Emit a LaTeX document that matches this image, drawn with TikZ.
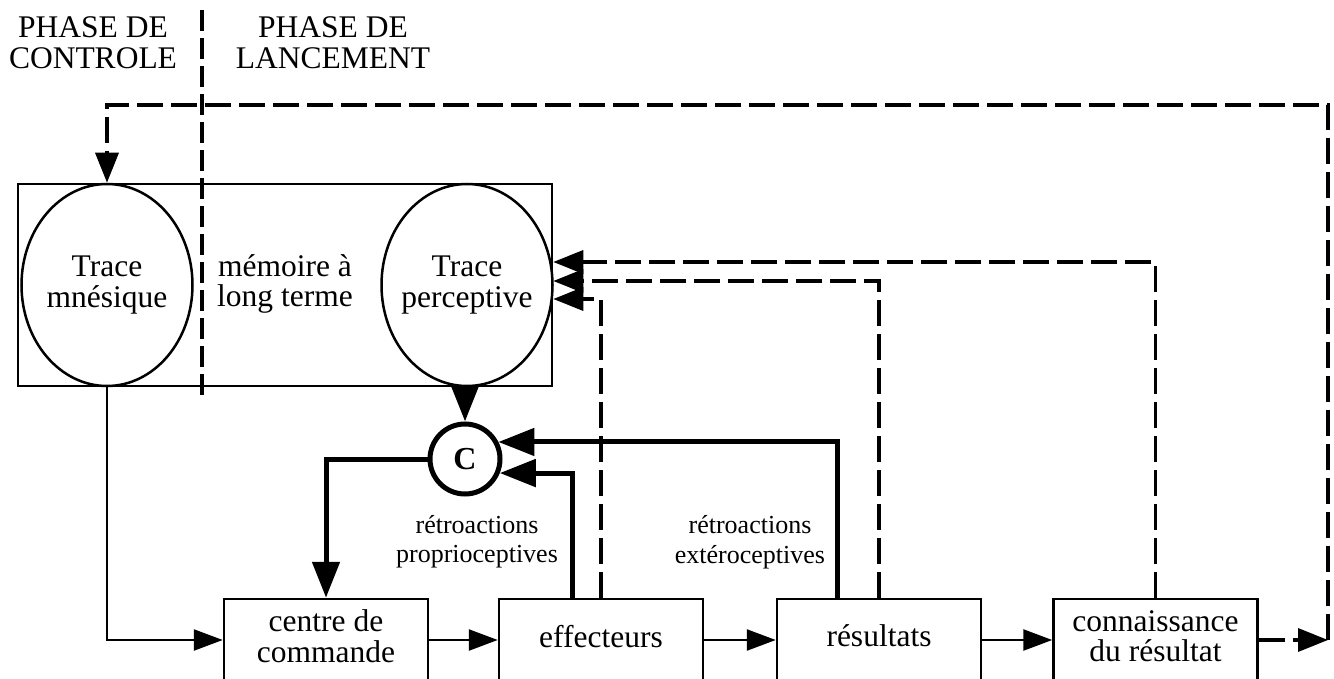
\documentclass[tikz,border=0pt]{standalone}
\usepackage{fontspec}
\setmainfont{Liberation Serif}
\usetikzlibrary{arrows.meta,shapes.geometric}
\newcommand\dpstrut{\rule[-8pt]{0pt}{8pt}}
\begin{document}
\begin{tikzpicture}[x=1pt,y=-1pt,
  main/.style={font=\fontsize{31.5}{30.5}\selectfont, align=center},
  small/.style={font=\fontsize{26}{29.5}\selectfont, align=center},
  thinln/.style={line width=2.5pt},
  thickln/.style={line width=5pt},
  dashln/.style={line width=3.4pt, dash pattern=on 26pt off 8pt},
  tipthin/.style={-{Triangle[length=29pt,width=21pt]}},
  tipthick/.style={-{Triangle[length=36pt,width=27pt]}},
  tipdash/.style={-{Triangle[length=30pt,width=23pt]}},
  box/.style={main, draw, line width=2.5pt, rectangle, minimum width=204pt, minimum height=82pt, inner sep=0pt},
  trace/.style={draw, line width=2.5pt, ellipse, minimum width=171pt, minimum height=202pt, inner sep=0pt},
]
\useasboundingbox (0,0) rectangle (1334,679);

% phase labels and separator
\node[main] (ph1) at (93,42.5) {PHASE DE\\CONTROLE};
\node[main] (ph2) at (333,42.5) {PHASE DE\\LANCEMENT};
\coordinate (pl1) at (202,10);
\coordinate (pl2) at (202,396);
\draw[dashln, dash pattern=on 21pt off 7pt] (pl1) -- (pl2);

% long term memory
\node[draw, line width=2.5pt, minimum width=534pt, minimum height=202pt, inner sep=0pt] (ltm) at (285,285) {};
\node[trace, label={[main]center:{Trace\\mnésique}}] (mnes) at (107,285) {};
\node[trace, label={[main]center:{Trace\\perceptive}}] (perc) at (467,285) {};
\node[main] (mem) at (285,284) {mémoire à\\long terme};

% comparator
\node[draw, circle, line width=5pt, minimum size=70pt, inner sep=0pt, font=\fontsize{32}{32}\selectfont\bfseries] (c) at (465,459) {C};

% bottom boxes
\node[box] (cmd) at (326,640) {centre de\\commande\dpstrut};
\node[box] (eff) at (601,640) {effecteurs\dpstrut};
\node[box] (res) at (879,640) {résultats\dpstrut};
\node[box] (con) at (1155.5,640) {connaissance\\du résultat\dpstrut};

% labels
\node[small] (rp) at (477,541.5) {rétroactions\\proprioceptives};
\node[small] (re) at (750,542) {rétroactions\\extéroceptives};

% thin connectors
\draw[thinln,tipthin] (mnes.south) |- (cmd.west);
\draw[thinln,tipthin] (cmd.east) -- (eff.west);
\draw[thinln,tipthin] (eff.east) -- (res.west);
\draw[thinln,tipthin] (res.east) -- (con.west);

% thick connectors
\draw[thickln,tipthick] (c.north |- perc.south) -- (c.north);
\draw[thickln,tipthick] (c.west) -| (cmd.north);
\draw[thickln,tipthick] ([xshift=-29pt]eff.north) |- (c.-22);
\draw[thickln,tipthick] ([xshift=-42pt]res.north) |- (c.27);

% dashed feedback
\draw[dashln,tipdash] (eff.north) |- (ltm.east |- 0,299);
\draw[dashln,tipdash] (res.north) |- (ltm.east |- 0,281);
\draw[dashln,tipdash] (con.north) |- (ltm.east |- 0,262);
\coordinate (rc) at (1328,640);
\coordinate (tc) at (1328,105);
\draw[dashln,tipdash] (con.east) -- (rc);
\draw[dashln,tipdash] (rc) -- (tc) -| (mnes.north);
\end{tikzpicture}
\end{document}
